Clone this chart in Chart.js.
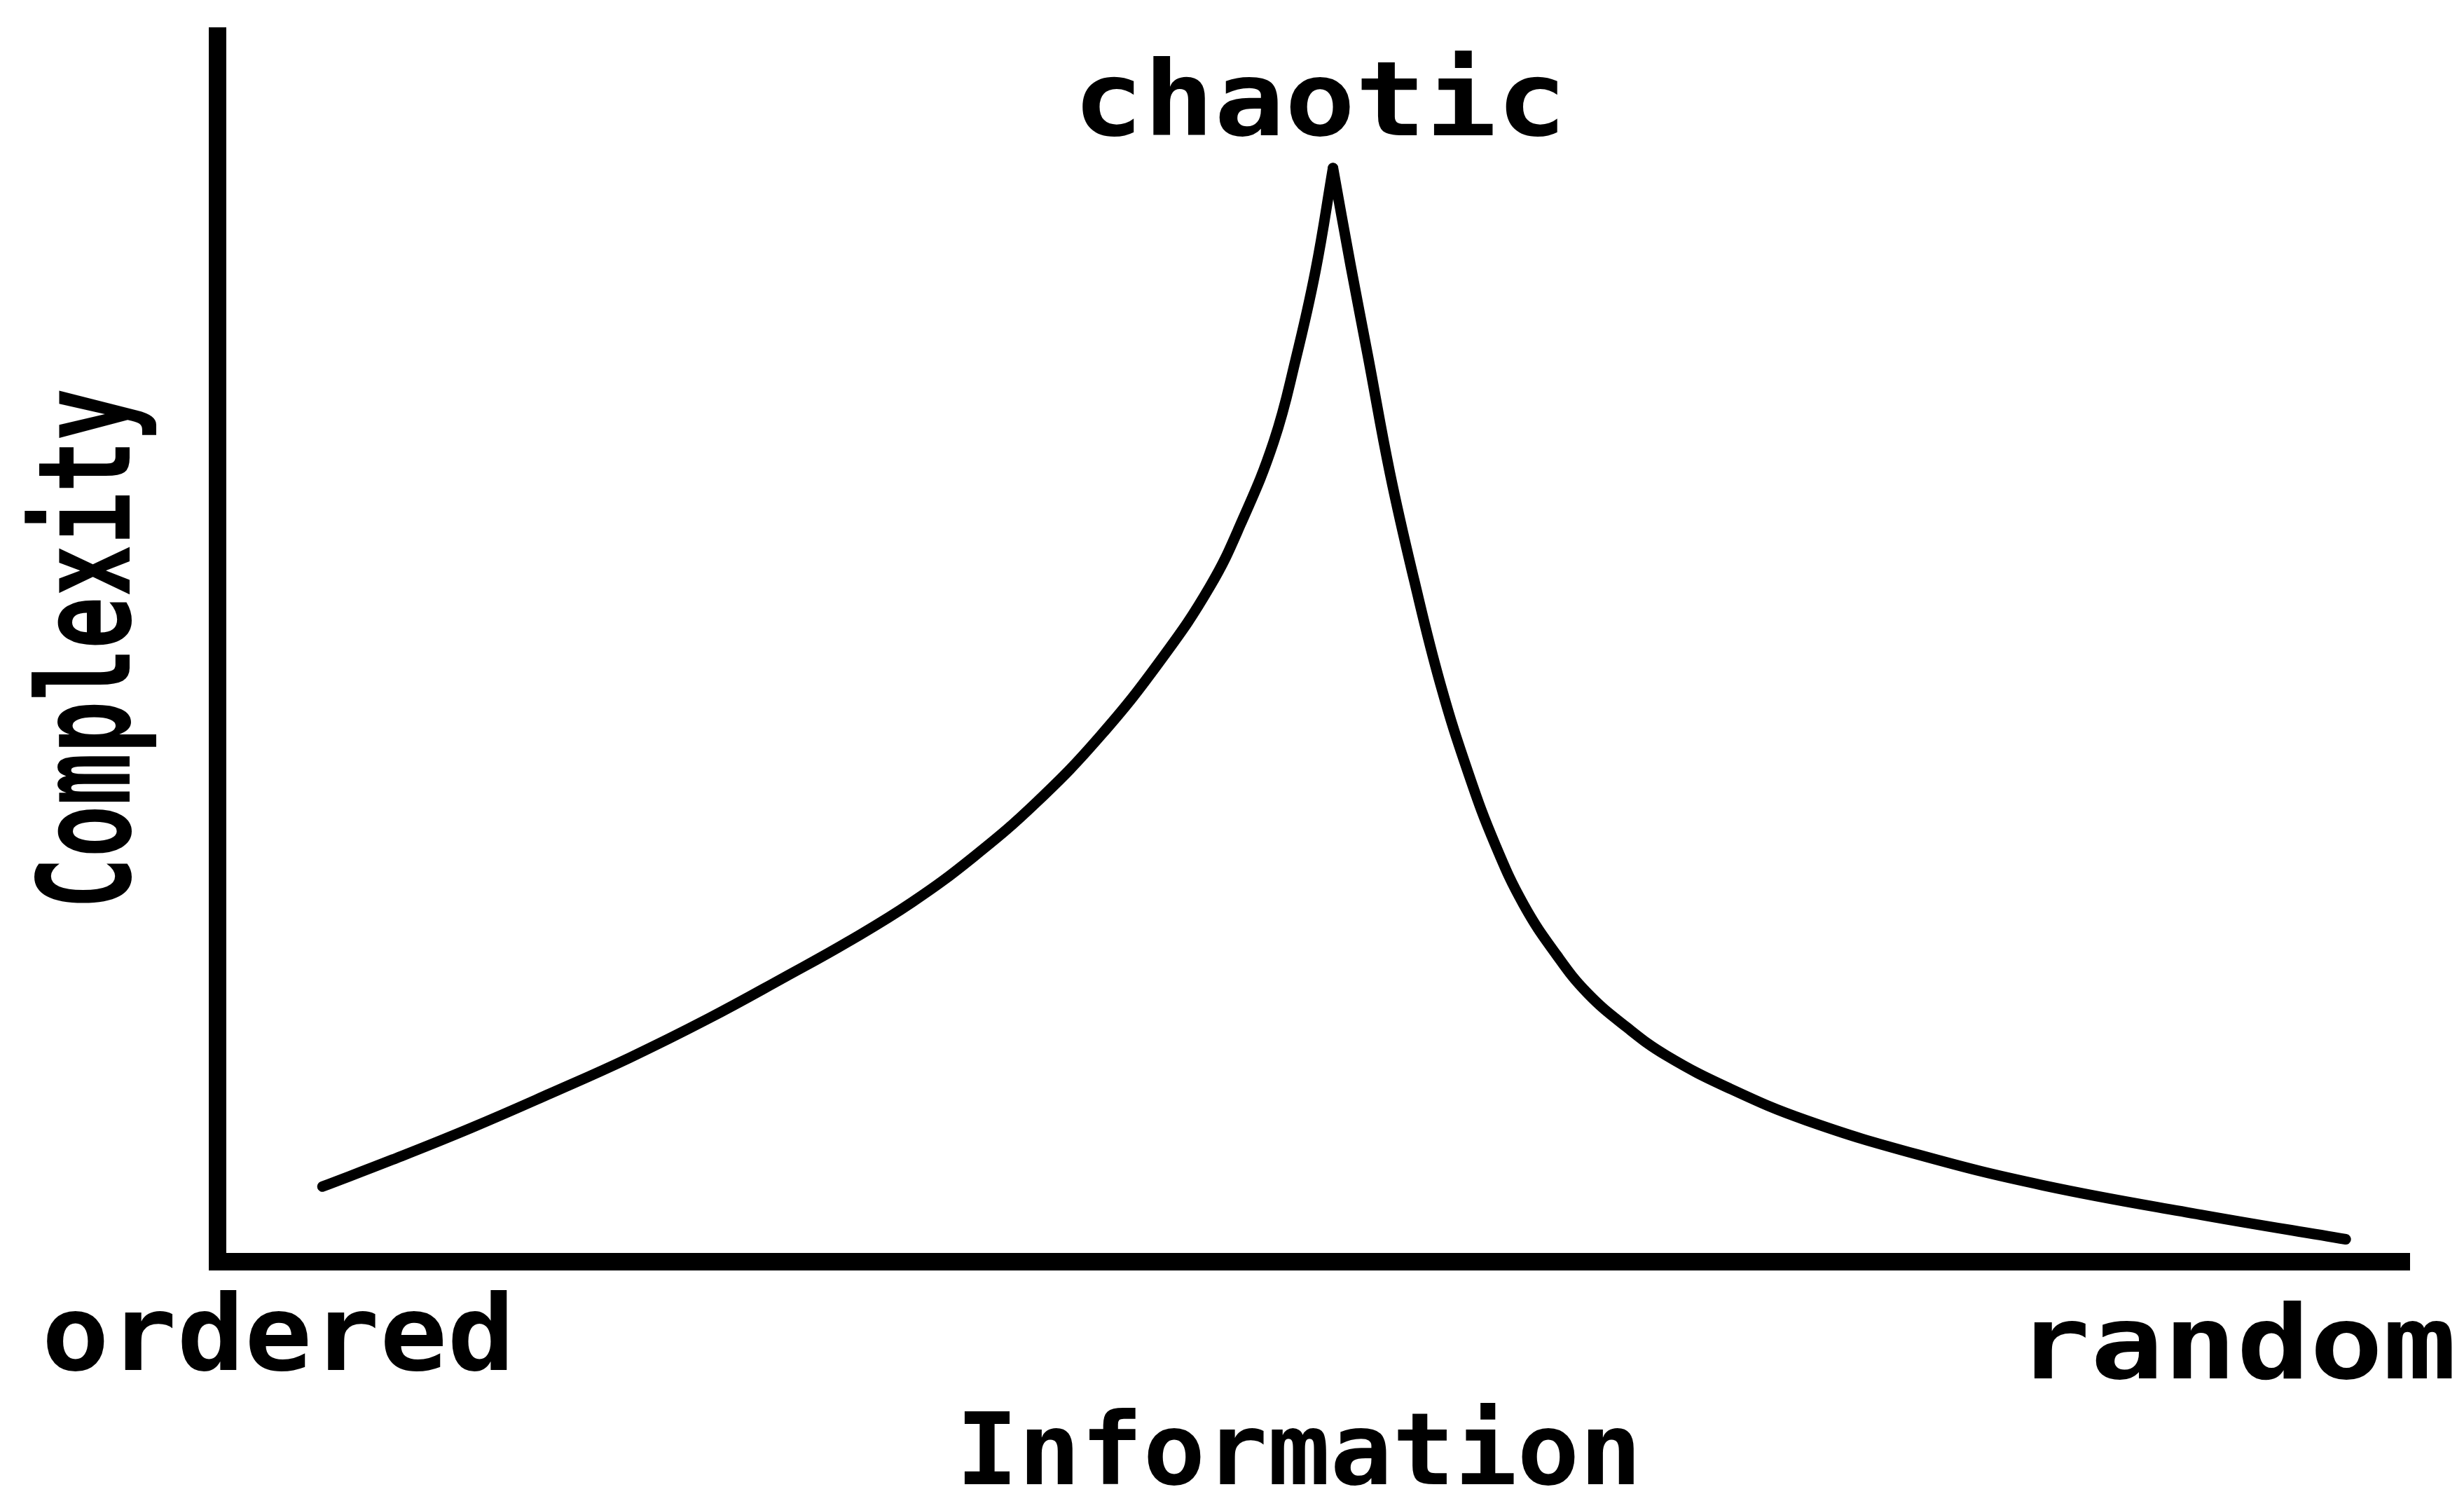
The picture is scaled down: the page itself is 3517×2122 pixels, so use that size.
<!DOCTYPE html>
<html>
<head>
<meta charset="utf-8">
<title>Complexity vs Information</title>
<script src="https://cdn.jsdelivr.net/npm/chart.js@4.4.1/dist/chart.umd.min.js"></script>
<style>
  html, body { margin: 0; padding: 0; background: #fff; }
  #wrap { position: relative; width: 3517px; height: 2122px; }
</style>
</head>
<body>
<div id="wrap"><canvas id="complexityChart"></canvas></div>
<script>
// Information runs 0 (ordered) .. 100 (random), complexity 0 .. 100 (top of axis)
const infoX = [4.8, 8.0, 11.6, 15.2, 18.8, 22.4, 25.9, 28.8, 31.7, 34.5, 37.4, 40.3, 43.1, 45.3, 46.7, 48.2, 49.2, 50.1, 50.9,
  51.7, 52.5, 53.5, 54.6, 55.8, 57.1, 58.3, 59.6, 61.1, 62.5, 64.3, 66.1, 69.0, 72.5, 77.6, 83.3, 90.5, 97.1];
const complexityY = [6.1, 8.3, 10.9, 13.7, 16.6, 19.8, 23.2, 26.1, 29.3, 33.0, 37.5, 42.9, 49.2, 55.1, 60.2, 66.9, 73.6, 80.8, 89.2,
  81.3, 73.8, 64.3, 55.6, 47.1, 39.7, 34.0, 29.1, 25.0, 21.9, 19.1, 16.8, 14.1, 11.5, 8.7, 6.2, 3.8, 1.8];

const xTitle = 'Information';
const yTitle = 'Complexity';
const xEndLabels = ['ordered', 'random'];
const peakLabel = 'chaotic';

const FONT = '"DejaVu Sans Mono", "Liberation Mono", monospace';

// the curve rises to a sharp cusp, so each side is its own smooth branch
const points = infoX.map((x, i) => ({ x, y: complexityY[i] }));
const peak = complexityY.indexOf(Math.max(...complexityY));
const leftBranch = points.slice(0, peak + 1);
const rightBranch = points.slice(peak);

// draw text so its ink starts at `left` and spans `width` px
function fitText(ctx, text, left, baseline, size, width) {
  ctx.font = `bold ${size}px ${FONT}`;
  const m = ctx.measureText(text);
  const ink = m.actualBoundingBoxLeft + m.actualBoundingBoxRight;
  const sx = width / ink;
  ctx.save();
  ctx.translate(left, baseline);
  ctx.scale(sx, 1);
  ctx.fillText(text, m.actualBoundingBoxLeft, 0);
  ctx.restore();
}

const textPlugin = {
  id: 'freeText',
  afterDraw(chart) {
    const ctx = chart.ctx;
    ctx.save();
    ctx.fillStyle = '#000';
    ctx.textAlign = 'left';
    ctx.textBaseline = 'alphabetic';

    fitText(ctx, peakLabel, 1545, 193, 148, 678);
    fitText(ctx, xEndLabels[0], 67, 1955, 150, 657);
    fitText(ctx, xEndLabels[1], 2903, 1967, 146, 597);
    fitText(ctx, xTitle, 1377, 2118, 143, 955);

    // rotated y title, reading bottom to top
    ctx.save();
    ctx.translate(185, 1289);
    ctx.rotate(-Math.PI / 2);
    fitText(ctx, yTitle, 0, 0, 183, 732);
    ctx.restore();

    ctx.restore();
  }
};

const axisStyle = {
  type: 'linear', min: 0, max: 100,
  grid: { display: false, drawTicks: false },
  ticks: { display: false },
  border: { display: true, color: '#000', width: 25 }
};

const branchStyle = {
  showLine: true,
  borderColor: '#000',
  borderWidth: 15,
  borderCapStyle: 'round',
  borderJoinStyle: 'round',
  pointRadius: 0,
  tension: 0.42,
  fill: false
};

new Chart(document.getElementById('complexityChart'), {
  type: 'scatter',
  data: {
    datasets: [
      { ...branchStyle, data: leftBranch },
      { ...branchStyle, data: rightBranch }
    ]
  },
  options: {
    responsive: true, maintainAspectRatio: false, animation: false,
    layout: { padding: { left: 310, right: 78, top: 51, bottom: 322 } },
    plugins: { legend: { display: false }, tooltip: { enabled: false } },
    scales: { x: { ...axisStyle }, y: { ...axisStyle } }
  },
  plugins: [textPlugin]
});
</script>
</body>
</html>
